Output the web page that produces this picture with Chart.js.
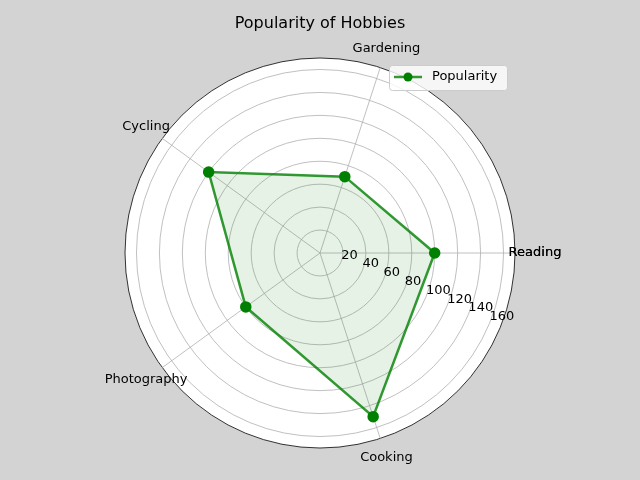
<!DOCTYPE html>
<html>
<head>
<meta charset="utf-8">
<script src="https://cdn.jsdelivr.net/npm/chart.js@4"></script>
<style>
  html, body { margin: 0; padding: 0; background: #d3d3d3; }
  #wrap { width: 640px; height: 480px; }
</style>
</head>
<body>
<div id="wrap"><canvas id="hobbyChart" width="640" height="480"></canvas></div>
<script>
// Clockwise order for Chart.js (matplotlib draws counter-clockwise from the right)
const hobbies = ['Reading', 'Cooking', 'Photography', 'Cycling', 'Gardening'];
const popularity = [100, 150, 80, 120, 70];
const tickValues = [20, 40, 60, 80, 100, 120, 140, 160];
const seriesName = 'Popularity';

const FONT = '"DejaVu Sans", sans-serif';

// Draws the white polar face, rotated tick labels, category labels, title and legend
const polarDecor = {
    id: 'polarDecor',
    beforeDraw(chart) {
        const s = chart.scales.r;
        const c = chart.ctx;
        c.save();
        c.fillStyle = '#ffffff';
        c.beginPath();
        c.arc(s.xCenter, s.yCenter, s.drawingArea, 0, Math.PI * 2);
        c.fill();
        c.restore();
    },
    afterDraw(chart) {
        const s = chart.scales.r;
        const c = chart.ctx;
        c.save();
        c.fillStyle = '#000';
        c.font = '13px ' + FONT;

        // radial tick labels along a line 22.5 deg below horizontal
        const ang = 22.5 * Math.PI / 180;
        c.textAlign = 'left';
        c.textBaseline = 'bottom';
        tickValues.forEach(v => {
            const d = s.getDistanceFromCenterForValue(v);
            c.fillText(String(v), s.xCenter + d * Math.cos(ang), s.yCenter + d * Math.sin(ang));
        });

        // category labels
        c.textAlign = 'center';
        c.textBaseline = 'middle';
        hobbies.forEach((h, i) => {
            const p = s.getPointPosition(i, s.drawingArea + 20);
            c.fillText(h, p.x, p.y);
        });
        // matplotlib repeats the closing label
        const p0 = s.getPointPosition(0, s.drawingArea + 20);
        c.fillText(hobbies[0], p0.x, p0.y);

        // title
        c.font = '16px ' + FONT;
        c.fillText('Popularity of Hobbies', 320, 24);

        // legend
        c.fillStyle = 'rgba(255,255,255,0.8)';
        c.strokeStyle = '#cccccc';
        c.lineWidth = 1;
        c.beginPath();
        c.roundRect(389.5, 65.5, 118, 25, 3);
        c.fill();
        c.stroke();
        c.strokeStyle = 'rgba(0,128,0,0.8)';
        c.lineWidth = 2.5;
        c.beginPath();
        c.moveTo(394, 77);
        c.lineTo(422, 77);
        c.stroke();
        c.fillStyle = 'green';
        c.beginPath();
        c.arc(408, 77, 4.5, 0, Math.PI * 2);
        c.fill();
        c.fillStyle = '#000';
        c.font = '13px ' + FONT;
        c.textAlign = 'left';
        c.fillText(seriesName, 432, 77);
        c.restore();
    }
};

new Chart(document.getElementById('hobbyChart'), {
    type: 'radar',
    data: {
        labels: hobbies,
        datasets: [{
            label: seriesName,
            data: popularity,
            borderColor: 'rgba(0,128,0,0.8)',
            backgroundColor: 'rgba(0,128,0,0.1)',
            borderWidth: 2.5,
            fill: true,
            pointBackgroundColor: 'green',
            pointBorderColor: 'green',
            pointRadius: 4.5,
            tension: 0
        }]
    },
    options: {
        responsive: false,
        animation: false,
        layout: { padding: { top: 58, bottom: 32, left: 125, right: 125 } },
        plugins: {
            legend: { display: false },
            title: { display: false },
            tooltip: { enabled: false }
        },
        scales: {
            r: {
                min: 0,
                max: 170,
                startAngle: 90,
                ticks: { display: false, stepSize: 20 },
                pointLabels: { display: false },
                grid: {
                    circular: true,
                    color: ctx => ctx.tick && ctx.tick.value === 170 ? '#000000' : '#b0b0b0',
                    lineWidth: 0.8
                },
                angleLines: { color: '#b0b0b0', lineWidth: 0.8 }
            }
        }
    },
    plugins: [polarDecor]
});
</script>
</body>
</html>
